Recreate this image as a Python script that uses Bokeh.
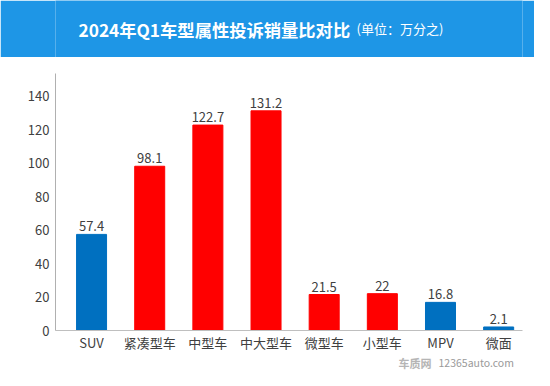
from bokeh.plotting import figure
from bokeh.models import Range1d, FixedTicker, ColumnDataSource
from bokeh.layouts import column
from bokeh.core.properties import value
from bokeh.embed import file_html
from bokeh.resources import INLINE

categories = ["SUV", "紧凑型车", "中型车", "中大型车", "微型车", "小型车", "MPV", "微面"]
ratios = [57.4, 98.1, 122.7, 131.2, 21.5, 22, 16.8, 2.1]
bar_colors = ["#0070C0", "#FF0000", "#FF0000", "#FF0000", "#FF0000", "#FF0000", "#0070C0", "#0070C0"]
y_ticks = [0, 20, 40, 60, 80, 100, 120, 140]
title_main = "2024年Q1车型属性投诉销量比对比"
title_unit = "(单位：万分之)"
watermark_logo = "车质网"
watermark_url = "12365auto.com"

FONT = "Noto Sans CJK SC"
W = 534
BL, BR = 55, 12  # shared frame borders (column aligns frames)
H_HEAD, H_STRIP, H_MAIN, H_FOOT = 57, 3, 294, 16


def band(h, fill):
    # data x == canvas px, data y == px from bottom
    f = figure(width=W, height=h, output_backend="svg", toolbar_location=None,
               x_range=Range1d(BL, W - BR), y_range=Range1d(0, h),
               x_axis_location=None, y_axis_location=None,
               min_border_left=BL, min_border_right=BR,
               min_border_top=0, min_border_bottom=0)
    f.grid.visible = False
    f.outline_line_color = None
    f.background_fill_color = fill
    f.border_fill_color = fill
    return f


# ---- header
head = band(H_HEAD, "#1E96E6")
head.text(x=[78], y=[H_HEAD - 29], text=[title_main], text_font=value(FONT), text_font_style="bold",
          text_font_size="17.3px", text_color="white", text_align="left", text_baseline="middle")
head.text(x=[356], y=[H_HEAD - 28], text=[title_unit], text_font=value(FONT),
          text_font_size="13px", text_color="white", text_align="left", text_baseline="middle")

strip = band(H_STRIP, "#E0923A")

# ---- main chart
idx = list(range(len(categories)))
src = ColumnDataSource(dict(
    x=idx, top=ratios, color=bar_colors,
    label=[f"{v:g}" for v in ratios],
))

p = figure(width=W, height=H_MAIN, output_backend="svg", toolbar_location=None,
           x_range=Range1d(-0.62, 7.41), y_range=Range1d(0, 153.5),
           min_border_left=BL, min_border_right=BR, min_border_top=13, min_border_bottom=21)
p.background_fill_color = "white"
p.border_fill_color = "white"
p.outline_line_color = None
p.grid.visible = False

p.vbar(x="x", top="top", width=0.516, bottom=0, color="color", source=src)
p.text(x="x", y="top", text="label", source=src, text_align="center", text_baseline="bottom",
       y_offset=-3, text_font=value(FONT), text_font_size="13px", text_color="#404040")

xa = p.xaxis[0]
xa.ticker = FixedTicker(ticks=idx)
xa.major_label_overrides = {i: c for i, c in zip(idx, categories)}
xa.major_tick_line_color = None
xa.minor_tick_line_color = None
xa.major_tick_out = 0
xa.major_tick_in = 0
xa.major_label_standoff = 2
xa.axis_line_color = "#bfbfbf"
xa.major_label_text_font = FONT
xa.major_label_text_font_size = "13px"
xa.major_label_text_color = "#404040"

ya = p.yaxis[0]
ya.ticker = FixedTicker(ticks=y_ticks)
ya.major_tick_line_color = None
ya.minor_tick_line_color = None
ya.major_tick_out = 0
ya.major_tick_in = 0
ya.major_label_standoff = 6
ya.axis_line_color = "#b0b0b0"
ya.major_label_text_font = FONT
ya.major_label_text_font_size = "13px"
ya.major_label_text_color = "#404040"

# ---- footer watermark
foot = band(H_FOOT, "white")
foot.text(x=[398], y=[H_FOOT / 2], text=[watermark_logo], text_font=value(FONT), text_font_style="bold",
          text_font_size="11px", text_color="#b5b5b5", text_align="left", text_baseline="middle")
foot.text(x=[438], y=[H_FOOT / 2], text=[watermark_url], text_font=value(FONT),
          text_font_size="10.5px", text_color="#9a9a9a", text_align="left", text_baseline="middle")

layout = column(head, strip, p, foot, spacing=0)

open("out.html", "w").write(file_html(layout, INLINE))
